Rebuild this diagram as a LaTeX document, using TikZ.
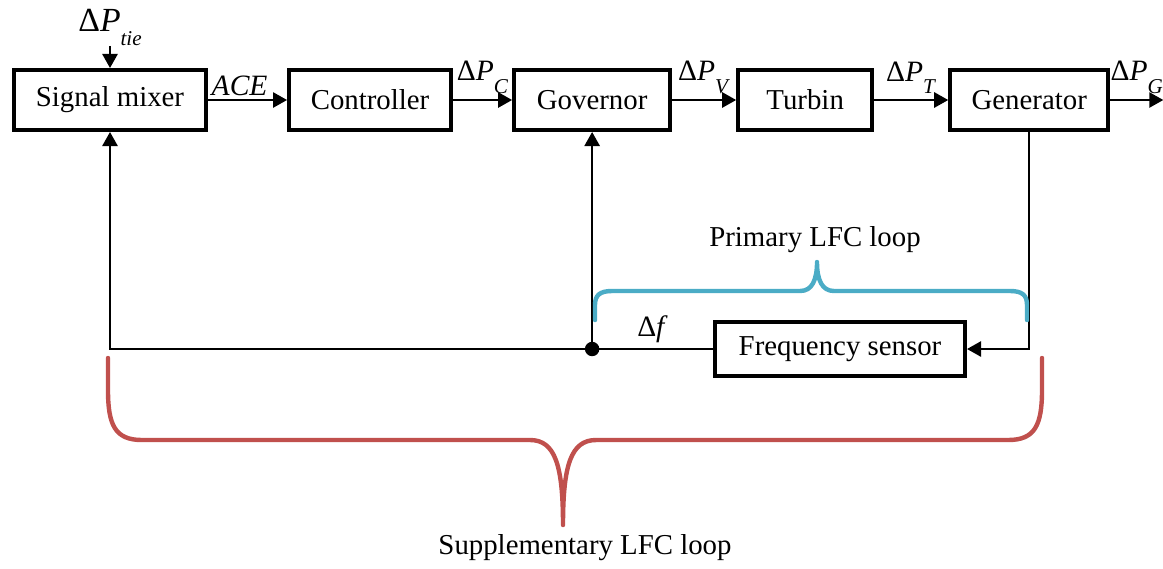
\documentclass[tikz,border=0pt]{standalone}
\usepackage{fontspec}
\setmainfont{Liberation Serif}
\usepackage{tikz}
\usetikzlibrary{arrows.meta, positioning, calc}
\definecolor{bracered}{RGB}{192,80,77}
\definecolor{braceblue}{RGB}{75,172,198}
\newcommand{\dP}[1]{Δ\textit{P}\raisebox{-0.9ex}{\fontsize{15}{15}\selectfont\textit{#1}}}
\tikzset{
  block/.style={rectangle, draw=black, line width=0.1cm,
    minimum height=1.5cm, inner sep=0pt,
    font=\fontsize{20.5}{24}\selectfont},
  sigl/.style={font=\fontsize{21}{22}\selectfont, inner sep=2pt},
  txt/.style={font=\fontsize{20.5}{24}\selectfont},
  arrow/.style={-{Triangle[length=0.35cm,width=0.38cm]}, line width=0.05cm},
  line/.style={line width=0.05cm},
  bracecurve/.style={line width=0.11cm, line cap=round, line join=round,
    preaction={draw=black!15, transform canvas={shift={(0.8pt,-1.2pt)}}}}
}

\begin{document}
\begin{tikzpicture}[x=0.025cm, y=-0.025cm]
  \useasboundingbox (0,0) rectangle (1163,568);

  % forward path
  \node[block, minimum width=4.8cm] (sm) at (110,100) {Signal mixer};
  \node[block, minimum width=4.05cm, right=1.975cm of sm] (ctrl) {Controller};
  \node[block, minimum width=3.9cm, right=1.475cm of ctrl] (gov) {Governor};
  \node[block, minimum width=3.35cm, right=1.6cm of gov] (turb) {Turbin};
  \node[block, minimum width=3.95cm, right=1.85cm of turb] (gen) {Generator};
  \coordinate[right=1.325cm of gen] (gout);

  \node[sigl, font=\fontsize{24}{25}\selectfont, inner sep=0pt, above=0.55cm of sm.north] (tie) {\dP{tie}};
  \draw[arrow] (tie.south) -- (sm.north);

  \draw[arrow] (sm) -- node[sigl, above, pos=0.4] {\textit{ACE}} (ctrl);
  \draw[arrow] (ctrl) -- node[sigl, above, yshift=2pt] {\dP{C}} (gov);
  \draw[arrow] (gov) -- node[sigl, above, yshift=2pt] {\dP{V}} (turb);
  \draw[arrow] (turb) -- node[sigl, above, yshift=2pt] {\dP{T}} (gen);
  \draw[arrow] (gen) -- node[sigl, above, yshift=2pt] {\dP{G}} (gout);

  % feedback
  \node[block, minimum width=6.25cm, minimum height=1.35cm] (fs) at (840,349) {Frequency sensor};
  \coordinate (jn) at (gov |- fs);
  \draw[arrow] (gen.south) |- (fs.east);
  \draw[line] (fs.west) -- node[sigl, above, yshift=2pt] {Δ\textit{f}} (jn);
  \draw[arrow] (jn) -- (gov.south);
  \draw[arrow] (jn) -| (sm.south);
  \fill (jn) circle (0.18cm);

  % loops
  \draw[bracecurve, braceblue] (595,320) -- (595,305)
    .. controls (595,295) and (600,291) .. (612,291) -- (800,291)
    .. controls (812,291) and (817,280) .. (817,262)
    .. controls (817,280) and (822,291) .. (834,291) -- (1010,291)
    .. controls (1022,291) and (1027,295) .. (1027,305) -- (1027,320);
  \node[txt] (prim) at (815,240) {Primary LFC loop};

  \draw[bracecurve, bracered] (108,358) -- (108,390)
    .. controls (108,425) and (115,440) .. (142,440) -- (530,440)
    .. controls (555,440) and (563,465) .. (563,525)
    .. controls (563,465) and (571,440) .. (596,440) -- (1008,440)
    .. controls (1035,440) and (1042,425) .. (1042,390) -- (1042,358);
  \node[txt] (supp) at (585,548) {Supplementary LFC loop};
\end{tikzpicture}
\end{document}
